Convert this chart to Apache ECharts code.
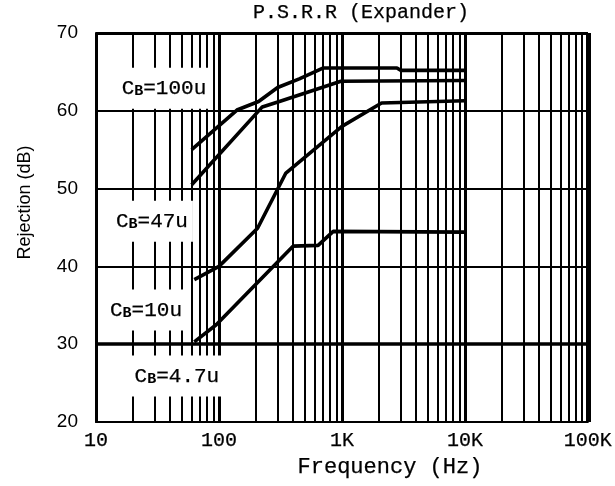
<!DOCTYPE html>
<html>
<head>
<meta charset="utf-8">
<script src="https://cdn.jsdelivr.net/npm/echarts@6/dist/echarts.min.js"></script>
<style>
  html, body { margin: 0; padding: 0; background: #fff; }
  #chart { width: 615px; height: 486px; }
</style>
</head>
<body>
<div id="chart"></div>
<script>
// ---- data ----
const xTickValues = [10, 100, 1000, 10000, 100000];
const xTickLabels = ['10', '100', '1K', '10K', '100K'];
const yTickValues = [20, 30, 40, 50, 60, 70];

const seriesNames = ['CB=100u', 'CB=47u', 'CB=10u', 'CB=4.7u'];

const freq100u = [60, 140, 210, 300, 450, 700, 2800, 3000, 10000];
const rej100u  = [55.0, 60.1, 61.2, 63.0, 64.1, 65.5, 65.5, 65.2, 65.2];

const freq47u = [60, 225, 310, 980, 10000];
const rej47u  = [50.5, 60.5, 61.2, 63.8, 63.9];

const freq10u = [63, 100, 206, 350, 1000, 2100, 10000];
const rej10u  = [38.3, 40.0, 44.9, 52.0, 58.0, 61.0, 61.3];

const freq4u7 = [63, 95, 400, 640, 850, 10000];
const rej4u7  = [30.3, 32.5, 42.6, 42.7, 44.5, 44.4];

const gridMultipliers = [2, 3, 4, 5, 6, 7, 8, 9];
const gridDecades = [10, 100, 1000, 10000];

// ---- build ----
const pairs = (xs, ys) => xs.map((x, i) => [x, ys[i]]);
const curves = [
  pairs(freq100u, rej100u),
  pairs(freq47u, rej47u),
  pairs(freq10u, rej10u),
  pairs(freq4u7, rej4u7)
];
const minorFreqs = [];
gridDecades.forEach(d => gridMultipliers.forEach(m => minorFreqs.push(d * m)));

const FONT_MONO = 'Liberation Mono';
const FONT_SANS = 'Liberation Sans';
const heavy = { textBorderColor: '#000', textBorderWidth: 0.25 };

function tickLabel(v) {
  let best = 0, bd = Infinity;
  xTickValues.forEach((t, i) => {
    const d = Math.abs(Math.log10(v) - Math.log10(t));
    if (d < bd) { bd = d; best = i; }
  });
  return bd < 0.01 ? xTickLabels[best] : '';
}

const lineSeries = curves.map((c, i) => ({
  name: seriesNames[i],
  type: 'line',
  data: c,
  symbol: 'none',
  z: 3,
  lineStyle: { color: '#000', width: 3.6 },
  animation: false
}));

const labelAnchors = [
  [35.7, 62.9], [28.5, 45.8], [25.5, 34.4], [45.5, 25.9]
];

const option = {
  animation: false,
  backgroundColor: '#fff',
  title: {
    text: 'P.S.R.R (Expander)',
    left: 361,
    top: 3,
    padding: 0,
    textAlign: 'center',
    textStyle: Object.assign({ fontFamily: FONT_MONO, fontSize: 20, fontWeight: 'normal', color: '#000' }, heavy)
  },
  grid: { left: 96, right: 27, top: 33, bottom: 64, show: false },
  xAxis: {
    type: 'log',
    logBase: 10,
    min: 10,
    max: 100000,
    name: 'Frequency (Hz)',
    nameLocation: 'middle',
    nameGap: 31,
    nameTextStyle: Object.assign({ fontFamily: FONT_MONO, fontSize: 22, color: '#000', padding: [0, 0, 0, 96] }, heavy),
    axisLine: { show: true, lineStyle: { color: '#000', width: 2 } },
    axisTick: { show: false },
    axisLabel: Object.assign({
      show: true, margin: 9, color: '#000', fontFamily: FONT_MONO, fontSize: 20,
      showMinLabel: true, showMaxLabel: true,
      formatter: tickLabel
    }, heavy),
    splitLine: { show: true, lineStyle: { color: '#000', width: 3 } },
    minorTick: { show: false },
    minorSplitLine: { show: false }
  },
  yAxis: {
    type: 'value',
    min: 20,
    max: 70,
    interval: 10,
    name: 'Rejection (dB)',
    nameLocation: 'middle',
    nameGap: 62,
    nameTextStyle: { fontFamily: FONT_SANS, fontSize: 18, color: '#000', padding: [0, 0, 0, 50] },
    axisLine: { show: true, lineStyle: { color: '#000', width: 2 } },
    axisTick: { show: false },
    axisLabel: { margin: 18, color: '#000', fontFamily: FONT_SANS, fontSize: 19 },
    splitLine: { show: true, lineStyle: { color: '#000', width: 2 } }
  },
  series: [
    {
      name: 'grid',
      type: 'line',
      data: [],
      z: 1,
      silent: true,
      markLine: {
        silent: true,
        symbol: 'none',
        label: { show: false },
        animation: false,
        lineStyle: { color: '#000', width: 2, type: 'solid' },
        data: minorFreqs.map(f => ({ xAxis: f }))
          .concat([
            { xAxis: 100000, lineStyle: { color: '#000', width: 5, type: 'solid' } },
            { yAxis: 70, lineStyle: { color: '#000', width: 3, type: 'solid' } },
            { yAxis: 30, lineStyle: { color: '#000', width: 3.5, type: 'solid' } }
          ])
      }
    },
    ...lineSeries,
    {
      name: 'labels',
      type: 'scatter',
      symbolSize: 0,
      z: 5,
      silent: true,
      itemStyle: { opacity: 1 },
      data: seriesNames.map((n, i) => ({ name: n, value: labelAnchors[i] })),
      label: {
        show: true,
        position: 'inside',
        opacity: 1,
        backgroundColor: '#ffffff',
        padding: [10, 5],
        formatter: p => '{c|' + p.name.slice(0, 1) + '}{b|' + p.name.slice(1, 2) + '}{r|' + p.name.slice(2) + '}',
        rich: {
          c: Object.assign({ fontFamily: FONT_MONO, fontSize: 21, color: '#000' }, heavy),
          b: { fontFamily: FONT_MONO, fontSize: 15, fontWeight: 'bold', color: '#000', verticalAlign: 'bottom' },
          r: Object.assign({ fontFamily: FONT_MONO, fontSize: 21, color: '#000' }, heavy)
        }
      }
    }
  ]
};

const chart = echarts.init(document.getElementById('chart'), null, { renderer: 'canvas' });
chart.setOption(option);
</script>
</body>
</html>
